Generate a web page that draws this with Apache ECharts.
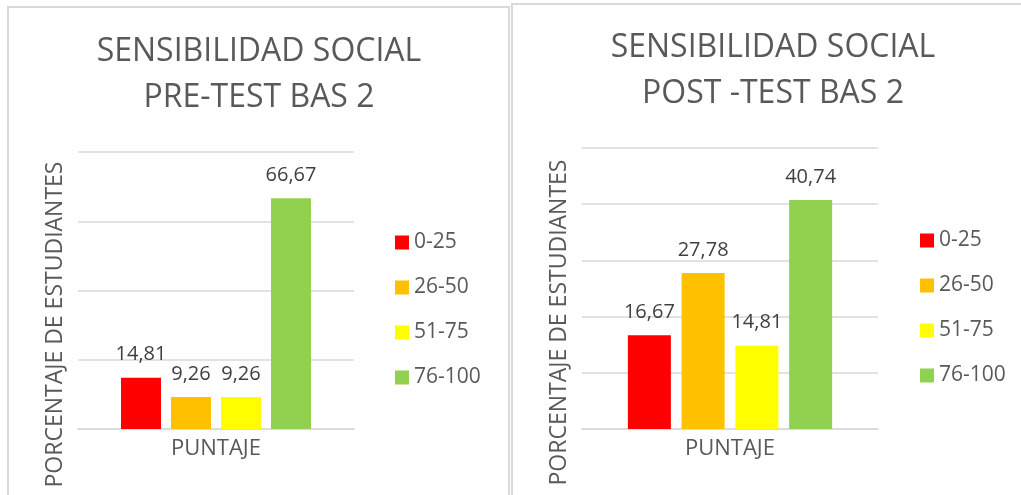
<!DOCTYPE html>
<html>
<head>
<meta charset="utf-8">
<title>Sensibilidad social</title>
<script src="https://cdn.jsdelivr.net/npm/echarts@6/dist/echarts.min.js"></script>
<style>
  html, body { margin: 0; padding: 0; background: #fff; }
  #chart { width: 1021px; height: 495px; }
</style>
</head>
<body>
<div id="chart"></div>
<script>
const categories = ['PUNTAJE']
const ranges = ['0-25', '26-50', '51-75', '76-100']
const rangeColors = ['#FF0000', '#FFC000', '#FFFF00', '#92D050']
const preTest = [14.81, 9.26, 9.26, 66.67]
const postTest = [16.67, 27.78, 14.81, 40.74]

const FONT = 'Open Sans'
const TEXT = '#595959'
const GRID_LINE = '#D9D9D9'

const chart = echarts.init(document.getElementById('chart'), null, { renderer: 'canvas' })

function fmt(p) {
  return p.value.toFixed(2).replace('.', ',')
}

function barSeries(values, axisIndex, width) {
  return values.map((v, i) => ({
    name: ranges[i],
    type: 'bar',
    xAxisIndex: axisIndex,
    yAxisIndex: axisIndex,
    barWidth: width,
    barGap: '25%',
    itemStyle: { color: rangeColors[i] },
    label: {
      show: true,
      position: 'top',
      distance: 13,
      formatter: fmt,
      fontFamily: FONT,
      fontSize: 20,
      color: '#404040',
    },
    emphasis: { disabled: true },
    data: [v],
  }))
}

function xAxis(gridIndex) {
  return {
    type: 'category',
    gridIndex,
    data: categories,
    axisTick: { show: false },
    axisLine: { lineStyle: { color: GRID_LINE, width: 1.5 } },
    axisLabel: { fontFamily: FONT, fontSize: 22, color: TEXT, margin: 9 },
  }
}

function yAxis(gridIndex, max, interval) {
  return {
    type: 'value',
    gridIndex,
    min: 0,
    max,
    interval,
    name: 'PORCENTAJE DE ESTUDIANTES',
    nameLocation: 'middle',
    nameRotate: 90,
    nameGap: 11,
    nameTextStyle: { fontFamily: FONT, fontSize: 23, color: TEXT, padding: [0, 68, 0, 0] },
    axisLabel: { show: false },
    axisTick: { show: false },
    axisLine: { show: false },
    splitLine: { lineStyle: { color: GRID_LINE, width: 1.5 } },
  }
}

function legend(left, top) {
  return {
    orient: 'vertical',
    left,
    top,
    padding: 0,
    itemWidth: 14,
    itemHeight: 14,
    itemGap: 24,
    icon: 'rect',
    selectedMode: false,
    data: ranges,
    textStyle: { fontFamily: FONT, fontSize: 21, color: TEXT },
  }
}

const option = {
  backgroundColor: '#fff',
  animation: false,
  title: [
    {
      text: 'SENSIBILIDAD SOCIAL\nPRE-TEST BAS 2',
      left: 259,
      top: 29,
      textAlign: 'center',
      padding: 0,
      textStyle: { fontFamily: FONT, fontSize: 32, fontWeight: 'normal', color: TEXT, lineHeight: 46 },
    },
    {
      text: 'SENSIBILIDAD SOCIAL\nPOST -TEST BAS 2',
      left: 773,
      top: 25,
      textAlign: 'center',
      padding: 0,
      textStyle: { fontFamily: FONT, fontSize: 32, fontWeight: 'normal', color: TEXT, lineHeight: 46 },
    },
  ],
  legend: [legend(395, 232), legend(920, 230)],
  grid: [
    { left: 78, top: 152, width: 276, height: 277 },
    { left: 582, top: 148, width: 296, height: 281 },
  ],
  xAxis: [xAxis(0), xAxis(1)],
  yAxis: [yAxis(0, 80, 20), yAxis(1, 50, 10)],
  series: [...barSeries(preTest, 0, 40), ...barSeries(postTest, 1, 43)],
  graphic: [
    { type: 'rect', shape: { x: 8, y: 7, width: 501, height: 500 }, style: { fill: 'none', stroke: GRID_LINE, lineWidth: 2 } },
    { type: 'rect', shape: { x: 512, y: 4, width: 520, height: 500 }, style: { fill: 'none', stroke: GRID_LINE, lineWidth: 2 } },
  ],
}

chart.setOption(option)
</script>
</body>
</html>
